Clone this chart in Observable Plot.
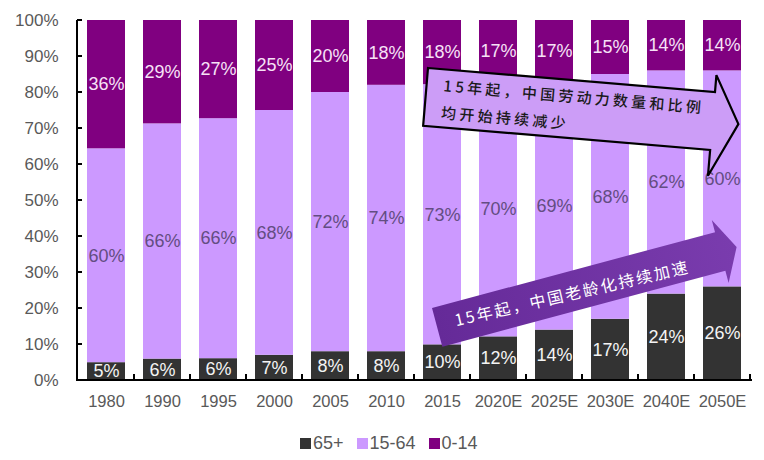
<!DOCTYPE html>
<html><head><meta charset="utf-8">
<script src="https://cdn.jsdelivr.net/npm/d3@7"></script>
<script src="https://cdn.jsdelivr.net/npm/@observablehq/plot@0.6"></script>
<style>
body{margin:0;background:#fff;font-family:"Liberation Sans",Arial,sans-serif;}
#wrap{width:764px;height:460px;position:relative;overflow:hidden;}
#legend{display:flex;align-items:center;padding-left:300px;margin-top:13px;height:20px;font-size:18px;color:#595959;line-height:20px;}
#legend .item{display:flex;align-items:center;margin-right:13px;}
#legend .sw{width:11px;height:11px;margin-right:2px;}
</style></head>
<body><div id="wrap"><div id="chart"></div><div id="legend"></div></div>
<script>
// ---- data ----
const years = ["1980","1990","1995","2000","2005","2010","2015","2020E","2025E","2030E","2040E","2050E"];
const age65 = [5,6,6,7,8,8,10,12,14,17,24,26];
const age1564 = [60,66,66,68,72,74,73,70,69,68,62,60];
const age014 = [36,29,27,25,20,18,18,17,17,15,14,14];
const groups = ["65+","15-64","0-14"];
const groupColors = ["#333333","#cc99ff","#800080"];
const yTicks = [0,0.1,0.2,0.3,0.4,0.5,0.6,0.7,0.8,0.9,1];
const noteTop = ["15年起，中国劳动力数量和比例","均开始持续减少"];
const noteBottom = "15年起，中国老龄化持续加速";

const series = [age65, age1564, age014];
const data = [];
years.forEach((yr, i) => groups.forEach((g, j) => data.push({year: yr, group: g, value: series[j][i]})));

const stackOpts = {x: "year", y: "value", z: "group", offset: "normalize"};
const labelMark = (g, color) => Plot.text(data, Plot.stackY({
  ...stackOpts,
  text: d => d.group === g ? d.value + "%" : null,
  fill: color, fontSize: 18, fontFamily: "'Liberation Sans', Arial, sans-serif"
}));

const chart = Plot.plot({
  width: 764, height: 420,
  marginLeft: 77, marginRight: 13, marginTop: 20, marginBottom: 40,
  style: {fontFamily: "'Liberation Sans', Arial, sans-serif", background: "transparent", color: "#595959", fontSize: "16.5px", overflow: "visible"},
  x: {domain: years, paddingInner: 0.317, paddingOuter: 0.14, label: null},
  y: {domain: [0, 1], label: null},
  color: {domain: groups, range: groupColors},
  marks: [
    Plot.barY(data, Plot.stackY({...stackOpts, fill: "group"})),
    labelMark("65+", "#f4f4f4"),
    labelMark("15-64", "#634d82"),
    labelMark("0-14", "#f7e2f7"),
    Plot.axisX({tickSize: 0, tickPadding: 15, fontSize: 16.5}),
    Plot.axisY({ticks: yTicks, tickFormat: d => Math.round(d * 100) + "%", tickSize: 0, tickPadding: 19, fontSize: 17})
  ]
});
document.getElementById("chart").appendChild(chart);

// ---- axes lines and ticks (Excel style) ----
const svg = d3.select(chart);
const xs = chart.scale("x"), ys = chart.scale("y");
const x0 = xs.range[0], x1 = xs.range[1];
const y0 = ys.apply(0), y1 = ys.apply(1);
const ax = svg.append("g").attr("stroke", "#000").attr("stroke-width", 2).attr("fill", "none");
ax.append("line").attr("x1", x0).attr("x2", x0).attr("y1", y0 + 1).attr("y2", y1);
yTicks.forEach(t => ax.append("line").attr("x1", x0).attr("x2", x0 + 5).attr("y1", ys.apply(t)).attr("y2", ys.apply(t)));
ax.append("line").attr("x1", x0 - 1).attr("x2", x1 + 1).attr("y1", y0).attr("y2", y0);
years.forEach(yr => {
  const b = xs.apply(yr) + xs.bandwidth + (xs.step - xs.bandwidth) / 2;
  ax.append("line").attr("x1", b).attr("x2", b).attr("y1", y0).attr("y2", y0 - 6);
});

// ---- annotation arrows ----
const defs = svg.append("defs");
const grad = defs.append("linearGradient").attr("id", "ag").attr("x1", "0").attr("x2", "1").attr("y1", "0").attr("y2", "0");
grad.append("stop").attr("offset", "0").attr("stop-color", "#652a98");
grad.append("stop").attr("offset", "1").attr("stop-color", "#7a3cae");

// top arrow
const tx = xs.apply("2015") + 5, ty = ys.apply(0.8667);
const gt = svg.append("g").attr("transform", `translate(${tx},${ty}) rotate(4.8)`).attr("text-anchor", "start");
gt.append("path").attr("d", "M0,0 L288,0 L288,-17 L314,30 L288,84 L288,58 L0,58 Z")
  .attr("fill", "#cc9df7").attr("stroke", "#000").attr("stroke-width", 2.2).attr("stroke-linejoin", "miter");
noteTop.forEach((line, i) => gt.append("text").attr("x", 17).attr("y", 15.5 + i * 27)
  .attr("text-anchor", "start")
  .attr("dominant-baseline", "central").attr("font-family", "'Noto Sans CJK SC', sans-serif")
  .attr("font-size", 15).attr("letter-spacing", "3.3px").attr("fill", "#1a1a1a").attr("font-weight", 500).text(line));

// bottom arrow
const bx = xs.apply("2015") + 9, by = ys.apply(0.2);
const gb = svg.append("g").attr("transform", `translate(${bx},${by}) rotate(-15)`).attr("text-anchor", "start");
gb.append("path").attr("d", "M0,0 L293,0 L293,-12.5 L310,20 L293,52.5 L293,40 L0,40 Z").attr("fill", "url(#ag)");
gb.append("text").attr("transform", "translate(19,17) rotate(2)")
  .attr("text-anchor", "start")
  .attr("dominant-baseline", "central").attr("font-family", "'Noto Sans CJK SC', sans-serif")
  .attr("font-size", 16).attr("letter-spacing", "2.2px").attr("fill", "#ffffff").text(noteBottom);

// ---- legend ----
const lg = d3.select("#legend");
groups.forEach((g, i) => {
  const it = lg.append("div").attr("class", "item");
  it.append("div").attr("class", "sw").style("background", groupColors[i]);
  it.append("span").text(g);
});
</script></body></html>
